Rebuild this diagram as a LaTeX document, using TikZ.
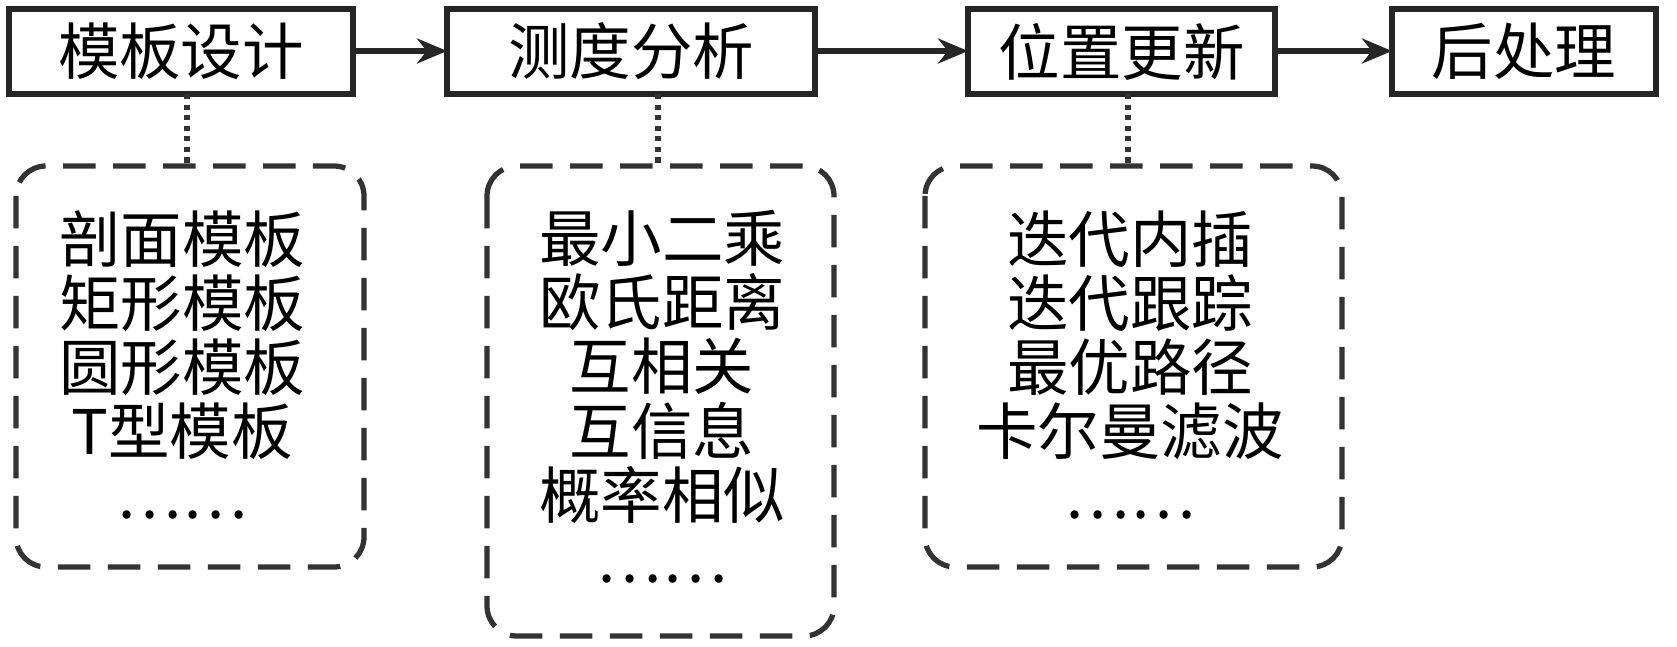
\documentclass[tikz,border=0pt]{standalone}
\usepackage{fontspec}
\setmainfont{Noto Sans CJK SC}
\usetikzlibrary{arrows.meta}
\begin{document}
\begin{tikzpicture}[x=0.02cm,y=-0.02cm,
 box/.style={draw=black!85,line width=3pt,inner sep=0pt},
 dbox/.style={draw=black!80,line width=3pt,dash pattern=on 0.65cm off 0.35cm,rounded corners=0.6cm},
 lbl/.style={font=\fontsize{35}{36}\selectfont,inner sep=0pt},
 lst/.style={font=\fontsize{35}{36.5}\selectfont,align=center,inner sep=0pt},
 arr/.style={-{Stealth[length=0.6cm,width=0.5cm]},line width=3pt,draw=black!85},
 dot/.style={line width=3pt,dash pattern=on 3pt off 3pt,draw=black!80}]
\useasboundingbox (0,0) rectangle (1677,646);
\draw[box] (9,9) rectangle (353,94) node[lbl,midway] (t1) {模板设计};
\draw[box] (447,9) rectangle (815,94) node[lbl,midway] (t2) {测度分析};
\draw[box] (968,9) rectangle (1275,94) node[lbl,midway] (t3) {位置更新};
\draw[box] (1392,9) rectangle (1656,94) node[lbl,midway] (t4) {后处理};
\coordinate (b1r) at (353,51); \coordinate (b2l) at (447,51);
\coordinate (b2r) at (815,51); \coordinate (b3l) at (968,51);
\coordinate (b3r) at (1275,51); \coordinate (b4l) at (1392,51);
\draw[arr] (b1r) -- (b2l);
\draw[arr] (b2r) -- (b3l);
\draw[arr] (b3r) -- (b4l);
\draw[dbox] (16,166) rectangle (364,567);
\draw[dbox] (487,166) rectangle (834,636);
\draw[dbox] (925,166) rectangle (1342,567);
\coordinate (d1a) at (187,94); \coordinate (d1b) at (187,166);
\coordinate (d2a) at (658,94); \coordinate (d2b) at (658,166);
\coordinate (d3a) at (1128,94); \coordinate (d3b) at (1128,166);
\draw[dot] (d1a) -- (d1b);
\draw[dot] (d2a) -- (d2b);
\draw[dot] (d3a) -- (d3b);
\node[lst,anchor=north] (l1) at (182,210) {剖面模板\\矩形模板\\圆形模板\\T型模板\\……};
\node[lst,anchor=north] (l2) at (662,210) {最小二乘\\欧氏距离\\互相关\\互信息\\概率相似\\……};
\node[lst,anchor=north] (l3) at (1130,210) {迭代内插\\迭代跟踪\\最优路径\\卡尔曼滤波\\……};
\end{tikzpicture}
\end{document}
